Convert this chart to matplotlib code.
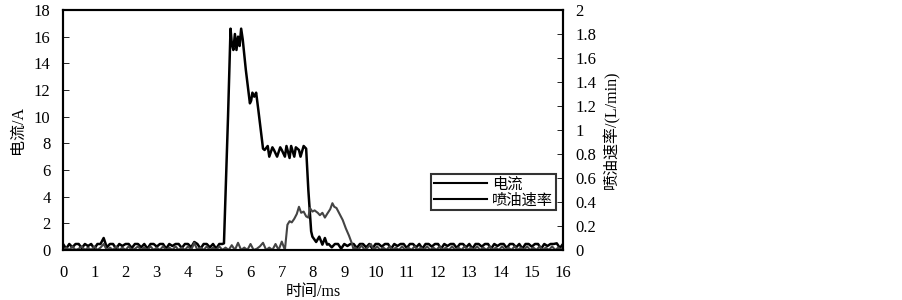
import numpy as np
import matplotlib
matplotlib.use('Agg')
import matplotlib.pyplot as plt

plt.rcParams['font.family'] = ['Liberation Serif', 'Noto Sans CJK SC']

# current trace (A), baseline sampled every 0.1 ms from 0 ms
cur_base_start = [0.45, 0.1, 0.45, 0.2, 0.45, 0.45, 0.15, 0.45, 0.3, 0.45,
                  0.1, 0.45, 0.45, 0.9, 0.2, 0.45, 0.45, 0.1, 0.45, 0.3,
                  0.45, 0.45, 0.15, 0.45, 0.45, 0.2, 0.45, 0.1, 0.45, 0.45,
                  0.25, 0.45, 0.45, 0.1, 0.45, 0.3, 0.45, 0.45, 0.15, 0.45,
                  0.45, 0.2, 0.6, 0.45, 0.1, 0.45, 0.45, 0.2, 0.45, 0.1,
                  0.45, 0.45]
# main pulse, explicit (t, A)
cur_pulse_t = [5.15, 5.28, 5.36, 5.40, 5.45, 5.50, 5.55, 5.60, 5.65, 5.70, 5.75,
               5.85, 5.98, 6.02, 6.06, 6.12, 6.18, 6.25, 6.40, 6.45,
               6.55, 6.60, 6.70, 6.75, 6.85, 6.95, 7.00, 7.10, 7.15, 7.25,
               7.30, 7.40, 7.45, 7.55, 7.60, 7.70, 7.78, 7.85, 7.94, 7.98,
               8.10, 8.20, 8.30, 8.38, 8.45]
cur_pulse_v = [0.5, 10.0, 16.6, 15.5, 15.0, 16.2, 15.0, 16.0, 15.3, 16.6, 15.8,
               13.5, 11.0, 11.2, 11.8, 11.5, 11.8, 10.5, 7.6, 7.5,
               7.8, 7.0, 7.7, 7.5, 7.0, 7.7, 7.5, 7.0, 7.8, 6.9,
               7.8, 7.0, 7.7, 7.5, 7.0, 7.8, 7.6, 4.5, 1.4, 1.0,
               0.6, 1.0, 0.4, 0.9, 0.4]
# tail baseline every 0.1 ms from 8.5 ms
cur_base_end = [0.45, 0.2, 0.45, 0.45, 0.1, 0.45, 0.3, 0.45, 0.45, 0.15,
                0.45, 0.45, 0.2, 0.45, 0.1, 0.45, 0.45, 0.25, 0.45, 0.45,
                0.1, 0.45, 0.3, 0.45, 0.45, 0.15, 0.45, 0.45, 0.2, 0.45,
                0.1, 0.45, 0.45, 0.25, 0.45, 0.45, 0.1, 0.45, 0.3, 0.45,
                0.45, 0.15, 0.45, 0.45, 0.2, 0.45, 0.1, 0.45, 0.45, 0.25,
                0.45, 0.45, 0.1, 0.45, 0.3, 0.45, 0.45, 0.15, 0.45, 0.45,
                0.2, 0.45, 0.1, 0.45, 0.45, 0.25, 0.45, 0.45, 0.1, 0.45,
                0.3, 0.45, 0.45, 0.5, 0.15, 0.45]

# injection rate trace (L/min)
rate_base_start = [0.0, 0.02, 0.0, 0.03, 0.0, 0.01, 0.03, 0.0, 0.02, 0.0,
                   0.03, 0.0, 0.02, 0.05, 0.0, 0.02, 0.0, 0.03, 0.0, 0.02,
                   0.0, 0.03, 0.0, 0.01, 0.03, 0.0, 0.02, 0.0, 0.03, 0.0,
                   0.02, 0.0, 0.03, 0.0, 0.02, 0.0, 0.03, 0.0, 0.02, 0.0,
                   0.03, 0.0, 0.06, 0.0, 0.02, 0.0, 0.03, 0.0, 0.02, 0.0,
                   0.03, 0.0, 0.02, 0.0, 0.04, 0.0, 0.06, 0.0, 0.02, 0.0,
                   0.05, 0.0, 0.01, 0.03, 0.06, 0.0, 0.02, 0.0, 0.05, 0.0,
                   0.07]
rate_pulse_t = [7.10, 7.18, 7.25, 7.32, 7.40, 7.48, 7.55, 7.62, 7.70, 7.78,
                7.85, 7.90, 7.98, 8.05, 8.15, 8.22, 8.30, 8.38, 8.45, 8.55,
                8.62, 8.68, 8.75, 8.85, 8.95, 9.05, 9.15, 9.25, 9.30]
rate_pulse_v = [0.0, 0.21, 0.24, 0.23, 0.26, 0.30, 0.36, 0.31, 0.32, 0.28,
                0.27, 0.35, 0.32, 0.33, 0.31, 0.29, 0.31, 0.27, 0.30, 0.34,
                0.39, 0.36, 0.35, 0.30, 0.25, 0.18, 0.12, 0.05, 0.0]
rate_base_end = [0.02, 0.0, 0.04, 0.0, 0.02, 0.05, 0.0, 0.03, 0.0, 0.02,
                 0.0, 0.03, 0.0, 0.02, 0.0, 0.03, 0.0, 0.02, 0.0, 0.03,
                 0.0, 0.02, 0.0, 0.03, 0.0, 0.02, 0.0, 0.03, 0.0, 0.02,
                 0.0, 0.03, 0.0, 0.02, 0.0, 0.03, 0.0, 0.02, 0.0, 0.03,
                 0.0, 0.02, 0.0, 0.03, 0.0, 0.02, 0.0, 0.03, 0.0, 0.02,
                 0.0, 0.03, 0.0, 0.02, 0.0, 0.03, 0.0, 0.02, 0.0, 0.03,
                 0.0, 0.02, 0.0, 0.03, 0.0, 0.02, 0.0, 0.05]

cur_t = np.concatenate([0.1 * np.arange(len(cur_base_start)), cur_pulse_t,
                        8.5 + 0.1 * np.arange(len(cur_base_end))])
cur_v = np.concatenate([cur_base_start, cur_pulse_v, cur_base_end])
rate_t = np.concatenate([0.1 * np.arange(len(rate_base_start)), rate_pulse_t,
                         9.35 + 0.1 * np.arange(len(rate_base_end))])
rate_v = np.concatenate([rate_base_start, rate_pulse_v, rate_base_end])

fig = plt.figure(figsize=(9.03, 3.0), dpi=100)
ax = fig.add_axes([0.0698, 0.1667, 0.5537, 0.80])
ax2 = ax.twinx()

l1, = ax.plot(cur_t, cur_v, color='black', lw=1.8, label='电流')
l2, = ax2.plot(rate_t, rate_v, color='#444444', lw=1.5, label='喷油速率')

ax.set_xlim(0, 16)
ax.set_ylim(0, 18)
ax2.set_ylim(0, 2)
ax.set_xticks(range(0, 17))
ax.set_yticks(range(0, 19, 2))
ax2.set_yticks(np.arange(0, 2.01, 0.2))
ax2.set_yticklabels(['0', '0.2', '0.4', '0.6', '0.8', '1', '1.2', '1.4', '1.6', '1.8', '2'])

ax.tick_params(axis='y', direction='in', length=4, labelsize=12, width=0.6, pad=9)
ax.tick_params(axis='x', length=0, labelsize=12, pad=11)
ax2.tick_params(axis='y', direction='in', length=4, labelsize=12, width=0.6, pad=9)
for a in (ax, ax2):
    for s in a.spines.values():
        s.set_linewidth(1.5)

ax.set_xlabel('时间/ms', fontsize=11.5, labelpad=2)
ax.set_ylabel('电流/A', fontsize=11.5, labelpad=6)
ax2.set_ylabel('喷油速率/(L/min)', fontsize=11.5, labelpad=5)

leg = ax2.legend([l1, l2], ['电流', '喷油速率'], loc='lower left',
                 bbox_to_anchor=(0.735, 0.165), fontsize=11, frameon=True,
                 fancybox=False, handlelength=3.5, handletextpad=0.3,
                 borderpad=0.2, labelspacing=0.1, borderaxespad=0)
leg.get_frame().set_edgecolor('black')
leg.get_frame().set_linewidth(1.5)
for h in leg.get_lines():
    h.set_color('black')
    h.set_linewidth(1.5)

fig.savefig('out.png', dpi=100)
